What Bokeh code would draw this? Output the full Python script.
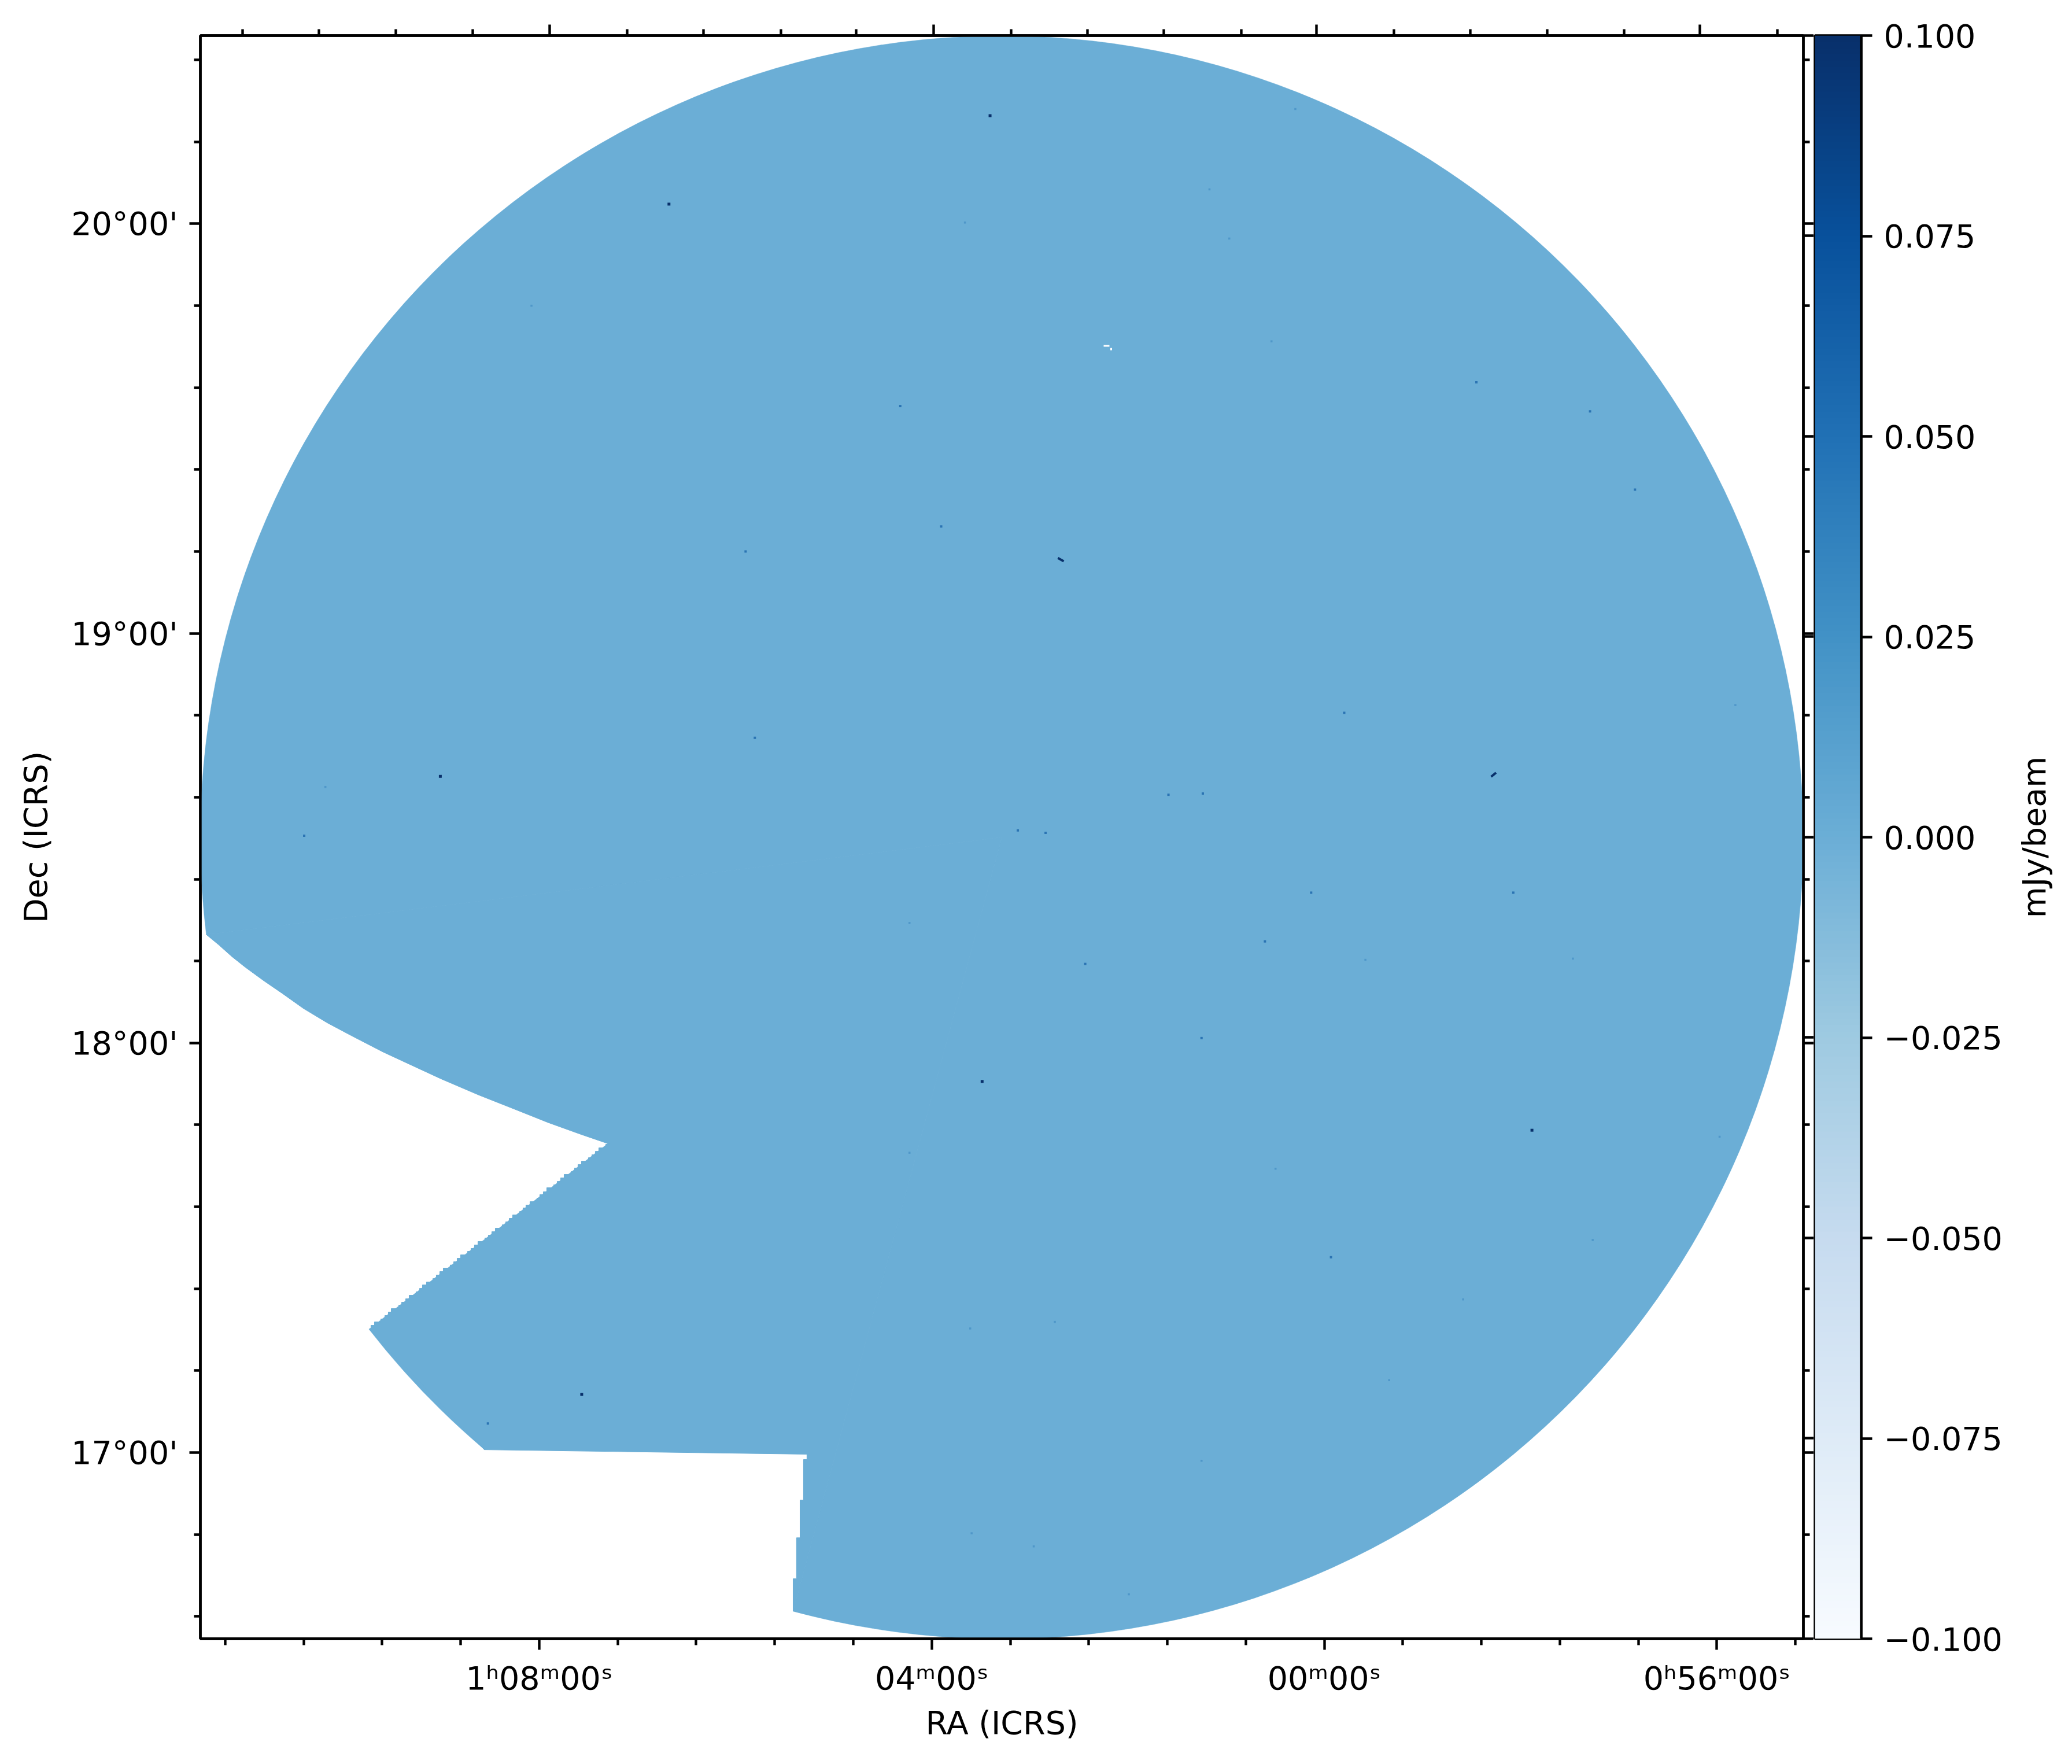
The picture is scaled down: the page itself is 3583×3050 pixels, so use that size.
from bokeh.plotting import figure
from bokeh.layouts import row
from bokeh.core.properties import value
from bokeh.models import Range1d, LinearAxis, FixedTicker, LinearColorMapper
from bokeh.palettes import Blues256
from bokeh.embed import file_html
from bokeh.resources import INLINE
import numpy as np

# RA in minutes of time (decreasing to the right), Dec in degrees
RA_START, RA_END = 71.453, 55.118
DEC_START, DEC_END = 16.5454, 20.4595

bottom_major = [68.0, 64.0, 60.0, 56.0]
bottom_labels = ["1ʰ08ᵐ00ˢ", "04ᵐ00ˢ", "00ᵐ00ˢ", "0ʰ56ᵐ00ˢ"]
bottom_minor = [71.2, 70.4, 69.6, 68.8, 67.2, 66.4, 65.6, 64.8, 63.2, 62.4, 61.6, 60.8,
                59.2, 58.4, 57.6, 56.8, 55.2]
top_major = [67.896, 63.981, 60.080, 56.173]
top_minor = [71.023, 70.245, 69.464, 68.675, 67.107, 66.328, 65.539, 64.771, 63.191, 62.414,
             61.636, 60.846, 59.291, 58.513, 57.731, 56.942, 55.384]
dec_major = [17.0, 18.0, 19.0, 20.0]
dec_labels = ["17°00'", "18°00'", "19°00'", "20°00'"]
dec_minor = [16.6, 16.8, 17.2, 17.4, 17.6, 17.8, 18.2, 18.4, 18.6, 18.8,
             19.2, 19.4, 19.6, 19.8, 20.2, 20.4]
# colourbar ticks echoed on the gap between the two frames
right_extra = [16.5454, 17.035, 17.524, 18.014, 18.502, 18.993, 19.481, 19.971, 20.4595]

cbar_ticks = [-0.1, -0.075, -0.05, -0.025, 0.0, 0.025, 0.05, 0.075, 0.1]
cbar_labels = ["−0.100", "−0.075", "−0.050", "−0.025", "0.000", "0.025", "0.050", "0.075", "0.100"]
cbar_title = "mJy/beam"

# footprint: circular field
field_ra, field_dec, field_radius = 63.286, 18.502, 8.167
wedge_start = [-105.1, 217.85]
wedge_end = [186.96, 229.8]

# missing region: lower curved edge
curve_ra = [71.394, 71.268, 71.132, 70.996, 70.807, 70.618, 70.401, 70.158, 69.915, 69.591, 69.267,
            68.996, 68.616, 68.236, 67.912, 67.588, 67.2889, 67.3223]
curve_dec = [18.265, 18.240, 18.211, 18.185, 18.152, 18.121, 18.084, 18.049, 18.018, 17.978, 17.942,
             17.912, 17.873, 17.837, 17.806, 17.778, 17.7534, 17.7525]
# stair-stepped edge
stair_ra = [67.3223, 67.3930, 67.4284, 67.4637, 67.4991, 67.5698, 67.6052, 67.6405, 67.6759, 67.7466,
            67.7820, 67.8173, 67.8527, 67.9234, 67.9587, 67.9941, 68.0236, 68.0943, 68.1355, 68.1650,
            68.2003, 68.2711, 68.3064, 68.3418, 68.3771, 68.4478, 68.4832, 68.5186, 68.5539, 68.6246,
            68.6600, 68.6953, 68.7307, 68.8014, 68.8368, 68.8721, 68.9075, 68.9782, 69.0135, 69.0489,
            69.0842, 69.1491, 69.1903, 69.2198, 69.2551, 69.3259, 69.3612, 69.4025, 69.4319, 69.5085,
            69.5380, 69.5734, 69.6146, 69.6794, 69.7148]
stair_dec = [17.7440, 17.7355, 17.7271, 17.7200, 17.7115, 17.7031, 17.6946, 17.6861, 17.6791, 17.6706,
             17.6621, 17.6537, 17.6466, 17.6367, 17.6297, 17.6212, 17.6127, 17.6042, 17.5972, 17.5887,
             17.5802, 17.5718, 17.5633, 17.5562, 17.5478, 17.5393, 17.5308, 17.5238, 17.5153, 17.5068,
             17.4984, 17.4913, 17.4828, 17.4744, 17.4659, 17.4579, 17.4504, 17.4419, 17.4334, 17.4249,
             17.4165, 17.4094, 17.4009, 17.3925, 17.3840, 17.3755, 17.3671, 17.3600, 17.3515, 17.3431,
             17.3346, 17.3261, 17.3191, 17.3106, 17.3021]
# bottom edge with the small vertical steps
base_ra = [69.7325, 68.560, 65.272, 65.272, 65.307, 65.307, 65.342, 65.342, 65.378, 65.378, 65.413, 65.413]
base_dec = [17.3017, 17.007, 16.996, 16.983, 16.983, 16.884, 16.884, 16.792, 16.792, 16.692, 16.692, 16.613]

# compact sources
dark_ra = [66.678, 63.406, 69.008, 67.567, 57.884, 63.487]
dark_dec = [20.048, 20.264, 18.651, 17.142, 17.787, 17.906]
mid_ra = [70.395, 58.074, 62.436, 60.605, 61.251, 59.932, 65.897, 65.803, 63.904, 64.321, 56.834,
          61.588, 61.238, 68.523, 59.797, 57.292, 58.450, 60.134, 63.123, 62.840]
mid_dec = [18.506, 18.367, 18.193, 18.248, 18.012, 17.477, 19.200, 18.745, 19.261, 19.555, 19.351,
           18.606, 18.609, 17.071, 18.806, 19.542, 19.613, 18.367, 18.519, 18.513]
faint_ra = [63.662, 60.968, 61.170, 60.295, 68.079, 60.538, 70.179, 55.811, 58.585, 59.339, 57.265,
            57.467, 59.581, 55.972, 60.497, 64.227, 62.961, 61.992, 63.594, 61.251, 62.746, 63.608, 64.227]
faint_dec = [20.003, 19.964, 20.084, 20.280, 19.800, 19.713, 18.625, 18.825, 17.374, 17.177, 17.519,
             18.206, 18.203, 17.771, 17.693, 17.732, 16.771, 16.654, 16.803, 16.980, 17.319, 17.303, 18.293]
streak_ra0 = [62.715, 58.300]
streak_dec0 = [19.184, 18.650]
streak_ra1 = [62.655, 58.250]
streak_dec1 = [19.176, 18.660]
hole_ra = [62.219, 62.172]
hole_dec = [19.702, 19.694]
hole_w = [0.059, 0.018]
hole_h = [0.0042, 0.0056]

FONT = "DejaVu Sans"
FS = "55.5px"
LW = 4.4
FILL = "#6baed6"


def style(ax, major_out=19, minor_out=11):
    ax.axis_line_color = "black"
    ax.axis_line_width = LW
    ax.major_tick_line_width = LW
    ax.minor_tick_line_width = LW
    ax.major_tick_in = 0
    ax.minor_tick_in = 0
    ax.major_tick_out = major_out
    ax.minor_tick_out = minor_out
    ax.major_label_text_font = FONT
    ax.major_label_text_font_size = FS
    ax.major_label_text_color = "black"
    ax.axis_label_text_font = FONT
    ax.axis_label_text_font_size = FS
    ax.axis_label_text_font_style = "normal"
    ax.axis_label_text_color = "black"


def blank(ax):
    ax.major_label_text_font_size = "0px"
    ax.major_label_standoff = 0
    ax.axis_label = None


p = figure(width=3136, height=3042, x_range=Range1d(RA_START, RA_END), y_range=Range1d(DEC_START, DEC_END),
           x_axis_type=None, y_axis_type=None, toolbar_location=None, output_backend="svg",
           min_border_left=346, min_border_right=18, min_border_top=61, min_border_bottom=209,
           frame_width=2772, frame_height=2772, background_fill_color="white")
p.outline_line_color = "black"
p.outline_line_width = LW
p.grid.visible = False

# footprint
p.wedge(x=[field_ra, field_ra], y=[field_dec, field_dec], radius=field_radius,
        start_angle=wedge_start, end_angle=wedge_end, start_angle_units="deg", end_angle_units="deg",
        fill_color=FILL, line_color=FILL, line_width=0.5)
poly_ra = [field_ra] + curve_ra
poly_dec = [field_dec] + curve_dec
prev = curve_dec[-1]
for r, d in zip(stair_ra, stair_dec):
    poly_ra += [r, r]
    poly_dec += [prev, d]
    prev = d
poly_ra += base_ra + [field_ra]
poly_dec += base_dec + [field_dec]
p.patch(poly_ra, poly_dec, fill_color=FILL, line_color=FILL, line_width=1)

# sources
p.scatter(faint_ra, faint_dec, marker="square", size=3.5, fill_color="#4f97c9", line_color=None)
p.scatter(mid_ra, mid_dec, marker="square", size=4, fill_color="#2b74b3", line_color=None)
p.scatter(dark_ra, dark_dec, marker="square", size=5, fill_color="#08306b", line_color=None)
p.segment(streak_ra0, streak_dec0, streak_ra1, streak_dec1, line_color="#08306b", line_width=4)
p.rect(hole_ra, hole_dec, width=hole_w, height=hole_h, fill_color="white", line_color=None)

bottom = LinearAxis(ticker=FixedTicker(ticks=bottom_major, minor_ticks=bottom_minor),
                    major_label_overrides=dict(zip(bottom_major, bottom_labels)),
                    axis_label="RA (ICRS)")
style(bottom)
bottom.major_label_standoff = 16
bottom.axis_label_standoff = 9
p.add_layout(bottom, "below")

left = LinearAxis(ticker=FixedTicker(ticks=dec_major, minor_ticks=dec_minor),
                  major_label_overrides=dict(zip(dec_major, dec_labels)),
                  axis_label="Dec (ICRS)")
style(left)
left.major_label_standoff = 20
left.axis_label_standoff = 26
p.add_layout(left, "left")

top = LinearAxis(ticker=FixedTicker(ticks=top_major, minor_ticks=top_minor),
                 major_label_overrides={v: "" for v in top_major})
style(top)
blank(top)
p.add_layout(top, "above")

right_major = dec_major + right_extra
right = LinearAxis(ticker=FixedTicker(ticks=right_major, minor_ticks=dec_minor),
                   major_label_overrides={v: "" for v in right_major})
style(right, major_out=18)
blank(right)
p.add_layout(right, "right")

# colourbar
c = figure(width=334, height=3042, x_range=Range1d(0, 1), y_range=Range1d(-0.1, 0.1),
           x_axis_type=None, y_axis_type=None, toolbar_location=None, output_backend="svg",
           min_border_left=2, min_border_right=252, min_border_top=61, min_border_bottom=209,
           frame_width=80, frame_height=2772)
c.outline_line_color = "black"
c.outline_line_width = LW
c.grid.visible = False
mapper = LinearColorMapper(palette=list(Blues256)[::-1], low=-0.1, high=0.1)
levels = np.linspace(-0.1, 0.1, 512).reshape(512, 1)
c.image(image=[levels], x=0, y=-0.1, dw=1, dh=0.2, color_mapper=mapper)
cax = LinearAxis(ticker=FixedTicker(ticks=cbar_ticks, minor_ticks=[]),
                 major_label_overrides=dict(zip(cbar_ticks, cbar_labels)))
style(cax)
cax.major_label_standoff = 20
c.add_layout(cax, "right")

# colourbar title, in a narrow strip of its own
t = figure(width=105, height=3042, x_range=Range1d(0, 1), y_range=Range1d(-0.1, 0.1),
           x_axis_type=None, y_axis_type=None, toolbar_location=None, output_backend="svg",
           min_border_left=0, min_border_right=0, min_border_top=61, min_border_bottom=209,
           frame_width=105, frame_height=2772)
t.outline_line_color = None
t.grid.visible = False
t.text(x=[0.447], y=[0.0], text=[cbar_title], angle=90, angle_units="deg",
       text_align="center", text_baseline="middle",
       text_font=value(FONT), text_font_size=value(FS), text_color="black")

layout = row(p, c, t, spacing=0)
open("out.html", "w").write(file_html(layout, INLINE))
